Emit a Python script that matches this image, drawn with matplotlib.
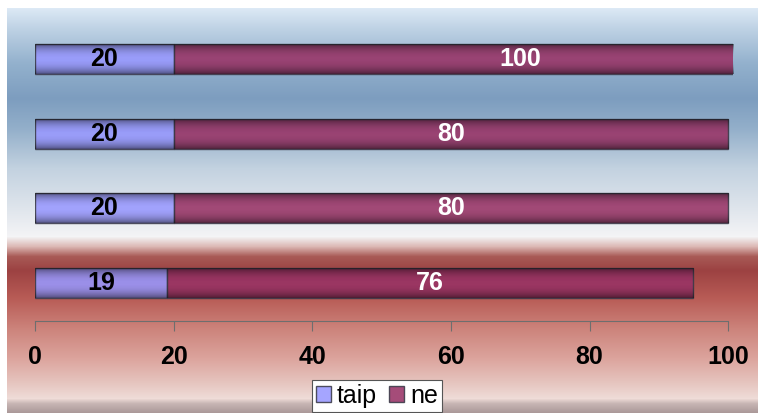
import matplotlib
matplotlib.use("Agg")
import matplotlib.pyplot as plt
import numpy as np
from matplotlib.colors import to_rgb

plt.rcParams['font.family'] = ['Liberation Sans', 'DejaVu Sans']

# data (top to bottom)
categories = ['1', '2', '3', '4']
taip = [20, 20, 20, 19]
ne = [100, 80, 80, 76]
series_names = ['taip', 'ne']
series_colors = ['#9999ff', '#993366']
label_colors = ['black', 'white']
xticks = [0, 20, 40, 60, 80, 100]

W, H = 758, 413
XMAX = 100.7
fig = plt.figure(figsize=(W / 100, H / 100), dpi=100)

# background gradient (pixel rows from top)
stops = [(0, '#dce9f5'), (22, '#bcd0e3'), (55, '#93b1cd'), (90, '#7d9dbf'),
         (120, '#93afca'), (160, '#c3d2e0'), (200, '#dfe5ec'), (228, '#f4f4f6'),
         (238, '#dcb8b4'), (248, '#a85a56'), (262, '#9c4242'), (290, '#b85c56'),
         (320, '#cc837b'), (350, '#dca49d'), (375, '#e6c6c0'), (390, '#efdcd8'),
         (395, '#c8b6b4'), (405, '#a89696')]
ys = np.arange(H - 8)
pos = [s[0] for s in stops]
cols = np.array([to_rgb(s[1]) for s in stops])
grad = np.stack([np.interp(ys, pos, cols[:, k]) for k in range(3)], axis=1)
bg = fig.add_axes([7 / W, 0, 1 - 7 / W, (H - 8) / H])
bg.imshow(grad[:, None, :], aspect='auto', extent=[0, 1, 1, 0])
bg.axis('off')

ax = fig.add_axes([35 / W, 92.5 / H, 698 / W, 299 / H])
ax.patch.set_alpha(0)
y = np.arange(len(categories))
shade = np.zeros((40, 1, 4))
t = np.linspace(-1, 1, 40)
shade[:, 0, 3] = 0.45 * np.abs(t) ** 2.2

handles = []
left = np.zeros(len(categories))
for vals, name, c, lc in zip([taip, ne], series_names, series_colors, label_colors):
    bars = ax.barh(y, vals, left=left, height=0.4, color=c, alpha=0.88,
                   edgecolor='#3a3a48', linewidth=1, label=name)
    handles.append(bars)
    for b, v, l in zip(bars, vals, left):
        im = ax.imshow(shade, aspect='auto',
                       extent=[l, min(l + v, XMAX), b.get_y() + b.get_height(), b.get_y()],
                       zorder=b.get_zorder() + 0.1)
        im.set_clip_path(b)
        ax.text(l + v / 2, b.get_y() + b.get_height() / 2, str(v), ha='center', va='center',
                fontsize=18, fontweight='bold', color=lc, zorder=5)
    left = left + np.array(vals)

ax.set_xlim(0, XMAX)
ax.set_ylim(len(categories) - 0.5, -0.5)
for s in ['top', 'right', 'left']:
    ax.spines[s].set_visible(False)
ax.spines['bottom'].set_color('#6e6e6e')
ax.spines['bottom'].set_bounds(0, 100)
ax.set_yticks([])
ax.set_xticks(xticks)
ax.tick_params(axis='x', direction='out', length=7, color='#6e6e6e', pad=11,
               labelsize=18)
for lab in ax.get_xticklabels():
    lab.set_fontweight('bold')

leg = fig.legend(handles=handles, labels=series_names, loc='center',
                 bbox_to_anchor=(377 / W, 17 / H), ncol=2, fontsize=18,
                 frameon=True, fancybox=False, handlelength=0.6, handleheight=0.6,
                 handletextpad=0.25, columnspacing=0.5, borderpad=0.15,
                 borderaxespad=0)
leg.get_frame().set_edgecolor('#555555')
leg.get_frame().set_linewidth(0.8)
leg.get_frame().set_alpha(1)

fig.savefig('out.png', dpi=100)
